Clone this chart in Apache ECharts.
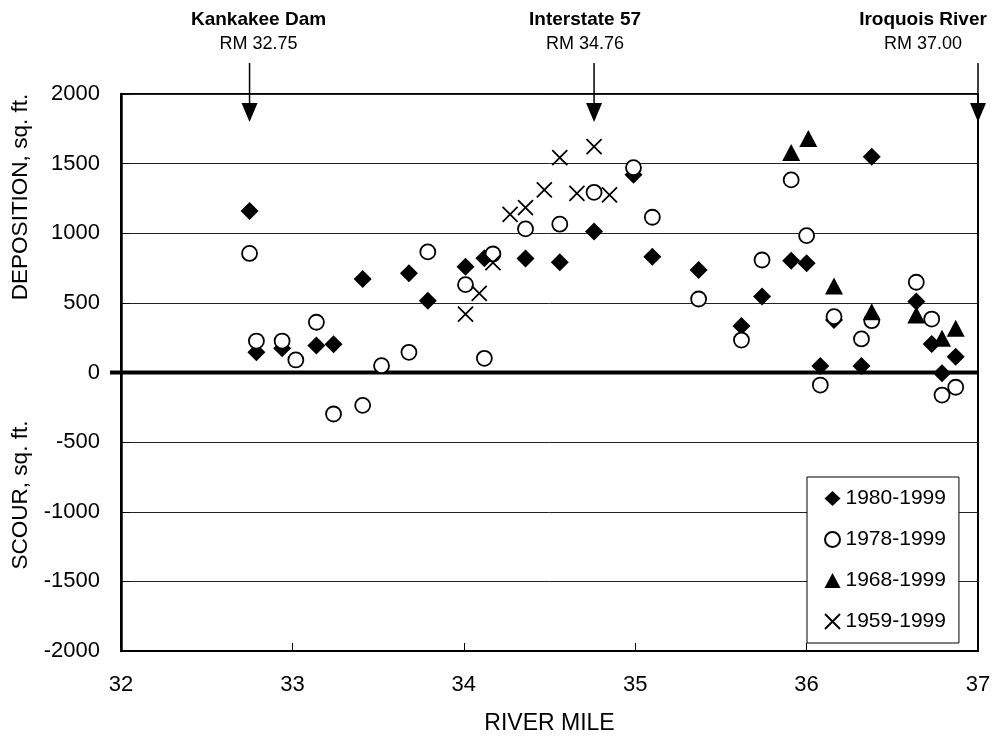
<!DOCTYPE html>
<html>
<head>
<meta charset="utf-8">
<script src="https://cdn.jsdelivr.net/npm/echarts@6/dist/echarts.min.js"></script>
<style>
  html, body { margin: 0; padding: 0; background: #fff; }
  #chart { width: 996px; height: 740px; }
</style>
</head>
<body>
<div id="chart"></div>
<script>
// Cross-section change along the river: deposition (+) and scour (-), sq. ft.
const seriesNames = ['1980-1999', '1978-1999', '1968-1999', '1959-1999'];

const miles1980 = [32.75, 32.79, 32.94, 33.14, 33.24, 33.41, 33.68, 33.79, 34.01, 34.12,
                   34.36, 34.56, 34.76, 34.99, 35.10, 35.37, 35.62, 35.74, 35.91, 36.00,
                   36.08, 36.16, 36.32, 36.38, 36.64, 36.73, 36.79, 36.87];
const values1980 = [1160, 145, 175, 193, 203, 672, 713, 516, 760, 820,
                    818, 792, 1012, 1420, 832, 736, 334, 545, 803, 784,
                    47, 377, 47, 1550, 509, 205, -6, 114];

const miles1978 = [32.75, 32.79, 32.94, 33.02, 33.14, 33.24, 33.41, 33.52, 33.68, 33.79,
                   34.01, 34.12, 34.17, 34.36, 34.56, 34.76, 34.99, 35.10, 35.37, 35.62,
                   35.74, 35.91, 36.00, 36.08, 36.16, 36.32, 36.38, 36.64, 36.73, 36.79, 36.87];
const values1978 = [855, 226, 226, 90, 361, -298, -236, 49, 145, 866,
                    631, 102, 851, 1031, 1065, 1294, 1471, 1115, 528, 233,
                    808, 1383, 983, -90, 401, 241, 372, 648, 384, -162, -106];

const miles1968 = [35.91, 36.01, 36.16, 36.38, 36.64, 36.79, 36.87];
const values1968 = [1580, 1680, 621, 437, 413, 246, 318];

const miles1959 = [34.01, 34.09, 34.17, 34.27, 34.36, 34.47, 34.56, 34.66, 34.76, 34.85];
const values1959 = [420, 569, 789, 1136, 1184, 1311, 1543, 1287, 1622, 1275];

// Landmarks marked with arrows above the plot
const landmarkNames = ['Kankakee Dam', 'Interstate 57', 'Iroquois River'];
const landmarkLabels = ['RM 32.75', 'RM 34.76', 'RM 37.00'];
const landmarkMiles = [32.75, 34.76, 37.00];

const FONT = '"Liberation Sans", Arial, Helvetica, sans-serif';
const zip = (xs, ys) => xs.map((x, i) => [x, ys[i]]);

const chart = echarts.init(document.getElementById('chart'), null, { renderer: 'canvas' });

const option = {
  animation: false,
  backgroundColor: '#fff',
  textStyle: { fontFamily: FONT, color: '#000' },
  grid: {
    left: 121, right: 18, top: 94, bottom: 89,
    show: true, borderColor: '#000', borderWidth: 2, backgroundColor: 'transparent'
  },
  xAxis: {
    type: 'value', min: 32, max: 37, interval: 1,
    name: 'RIVER MILE', nameLocation: 'middle', nameGap: 61,
    nameTextStyle: { fontSize: 23, fontFamily: FONT, color: '#000' },
    axisLine: { show: true, onZero: false, lineStyle: { color: '#000', width: 2 } },
    axisTick: { show: true, inside: true, length: 8, lineStyle: { color: '#000', width: 1 } },
    axisLabel: { fontSize: 22, fontFamily: FONT, color: '#000', margin: 23,
                 formatter: (v) => String(v) },
    splitLine: { show: false }
  },
  yAxis: {
    type: 'value', min: -2000, max: 2000, interval: 500,
    axisLine: { show: true, lineStyle: { color: '#000', width: 2.5 } },
    axisTick: { show: true, inside: true, length: 8, lineStyle: { color: '#000', width: 1 } },
    axisLabel: { fontSize: 22, fontFamily: FONT, color: '#000', margin: 21,
                 formatter: (v) => String(v) },
    splitLine: { show: true, lineStyle: { color: '#222', width: 1 } }
  },
  legend: {
    orient: 'vertical', left: 807, top: 477,
    padding: [11, 13, 11, 17], itemGap: 20, itemWidth: 16, itemHeight: 15,
    backgroundColor: '#fff', borderColor: '#000', borderWidth: 1, borderRadius: 0,
    selectedMode: false,
    textStyle: { fontSize: 21, fontFamily: FONT, color: '#000', lineHeight: 20 },
    data: seriesNames
  },
  series: [
    {
      name: seriesNames[0], type: 'scatter', data: zip(miles1980, values1980),
      symbol: 'diamond', symbolSize: [18, 18],
      itemStyle: { color: '#000', opacity: 1 }
    },
    {
      name: seriesNames[1], type: 'scatter', data: zip(miles1978, values1978),
      symbol: 'circle', symbolSize: 15,
      itemStyle: { color: '#fff', borderColor: '#000', borderWidth: 1.8, opacity: 1 }
    },
    {
      name: seriesNames[2], type: 'scatter', data: zip(miles1968, values1968),
      symbol: 'triangle', symbolSize: [18, 17],
      itemStyle: { color: '#000', opacity: 1 }
    },
    {
      name: seriesNames[3], type: 'scatter', data: zip(miles1959, values1959),
      symbol: 'path://M0,0L16,16M16,0L0,16', symbolSize: 15,
      itemStyle: { color: 'transparent', borderColor: '#000', borderWidth: 1.8, opacity: 1 }
    }
  ]
};

chart.setOption(option);

// Zero line, landmark arrows and vertical axis titles, placed through the axis scales
function drawOverlay() {
  const toPx = (mile, val) => chart.convertToPixel({ gridIndex: 0 }, [mile, val]);
  const [xLeft, y0] = toPx(32, 0);
  const [xRight, yTop] = toPx(37, 2000);
  const elements = [];

  elements.push({
    type: 'line', z: 1, silent: true,
    shape: { x1: xLeft - 11, y1: y0, x2: xRight, y2: y0 },
    style: { stroke: '#000', lineWidth: 4 }
  });

  const textOffsets = [9, -9, -55];
  landmarkMiles.forEach((mile, i) => {
    const x = toPx(mile, 0)[0];
    const tip = yTop + 28;
    elements.push({
      type: 'line', silent: true,
      shape: { x1: x, y1: 63, x2: x, y2: tip - 12 },
      style: { stroke: '#000', lineWidth: 1.5 }
    });
    elements.push({
      type: 'polygon', silent: true,
      shape: { points: [[x - 8, tip - 19], [x + 8, tip - 19], [x, tip]] },
      style: { fill: '#000' }
    });
    elements.push({
      type: 'text', silent: true, x: x + textOffsets[i], y: 20,
      style: {
        text: landmarkNames[i], fontSize: 19, fontWeight: 'bold', fontFamily: FONT,
        fill: '#000', textAlign: 'center', textVerticalAlign: 'middle'
      }
    });
    elements.push({
      type: 'text', silent: true, x: x + textOffsets[i], y: 44,
      style: {
        text: landmarkLabels[i], fontSize: 18, fontFamily: FONT,
        fill: '#000', textAlign: 'center', textVerticalAlign: 'middle'
      }
    });
  });

  elements.push({
    type: 'text', silent: true, x: 21, y: 197, rotation: Math.PI / 2,
    style: {
      text: 'DEPOSITION, sq. ft.', fontSize: 22.5, fontFamily: FONT,
      fill: '#000', textAlign: 'center', textVerticalAlign: 'middle'
    }
  });
  elements.push({
    type: 'text', silent: true, x: 21, y: 495, rotation: Math.PI / 2,
    style: {
      text: 'SCOUR, sq. ft.', fontSize: 22.5, fontFamily: FONT,
      fill: '#000', textAlign: 'center', textVerticalAlign: 'middle'
    }
  });

  chart.setOption({ graphic: { elements: elements } });
}

drawOverlay();
</script>
</body>
</html>
